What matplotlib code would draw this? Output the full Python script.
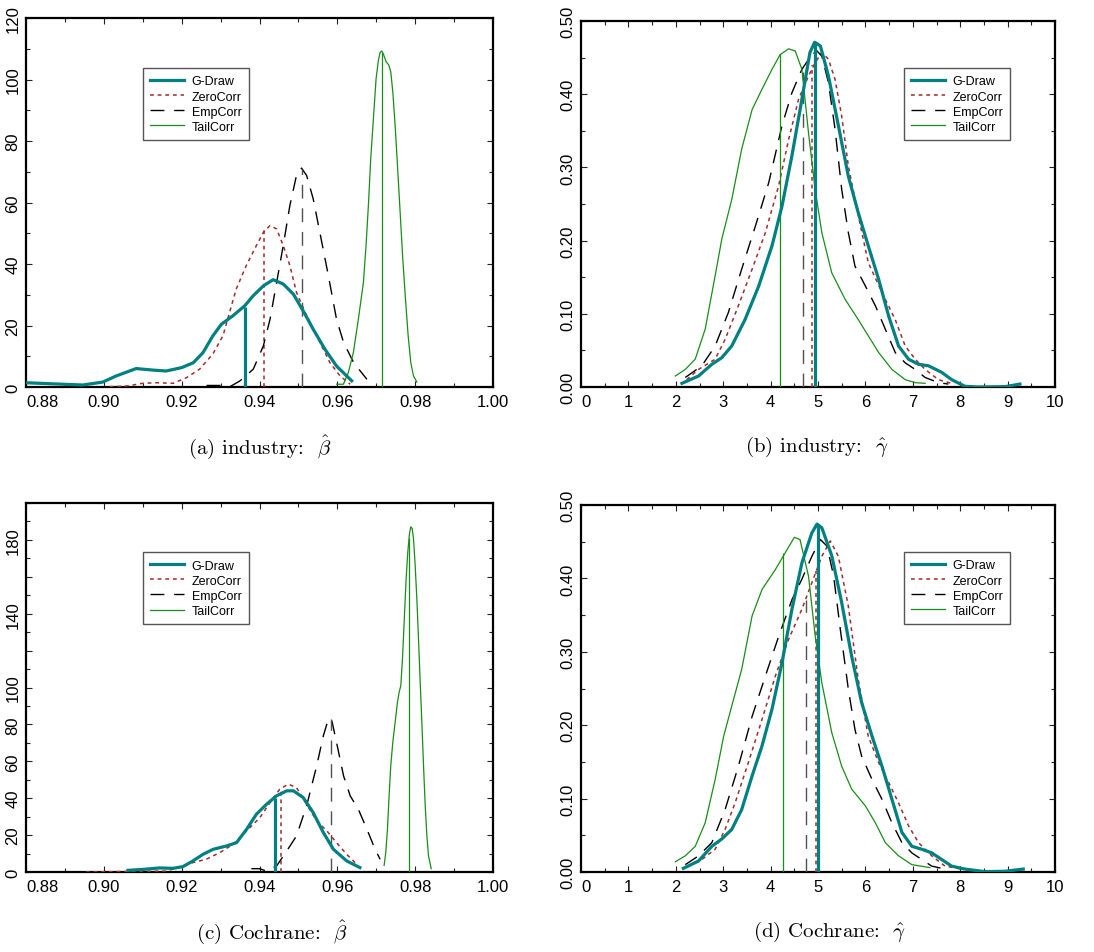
import matplotlib
matplotlib.use("Agg")
import matplotlib.pyplot as plt
from matplotlib.ticker import MultipleLocator, FixedLocator, FixedFormatter

plt.rcParams['mathtext.fontset'] = 'cm'
plt.rcParams['font.family'] = ['Liberation Sans', 'DejaVu Sans']

series_names = ["G-Draw", "ZeroCorr", "EmpCorr", "TailCorr"]

# ---------------- Panel (a): industry beta ----------------
a_gdraw_x = [0.8797, 0.8894, 0.8946, 0.8997, 0.9032, 0.9083, 0.9126, 0.9160, 0.9200, 0.9230, 0.9255,
             0.9280, 0.9302, 0.9332, 0.9362, 0.9384, 0.9410, 0.9435, 0.9461, 0.9487, 0.9512, 0.9538,
             0.9568, 0.9598, 0.9624, 0.9637]
a_gdraw_y = [1.4, 0.9, 0.65, 1.6, 3.6, 6.0, 5.5, 5.2, 6.3, 7.9, 11.2, 16.6, 20.4, 23.2, 26.4, 29.7,
             32.9, 34.9, 33.5, 30.2, 24.8, 18.8, 12.3, 6.8, 3.6, 2.0]
a_zero_x = [0.9015, 0.9058, 0.9100, 0.9135, 0.9178, 0.9212, 0.9246, 0.9280, 0.9306, 0.9323, 0.9340,
            0.9366, 0.9392, 0.9410, 0.9427, 0.9444, 0.9461, 0.9478, 0.9495, 0.9521, 0.9547, 0.9581,
            0.9607, 0.9633]
a_zero_y = [0.1, 0.3, 1.2, 1.4, 1.2, 3.0, 5.8, 10.7, 16.6, 24.2, 31.8, 39.5, 46.0, 50.3, 52.5, 51.4,
            46.0, 39.5, 30.8, 23.2, 16.6, 7.9, 3.6, 0.9]
a_emp_x = [0.9264, 0.9300, 0.9324, 0.9350, 0.9384, 0.9410, 0.9427, 0.9444, 0.9461, 0.9478, 0.9495,
           0.9508, 0.9521, 0.9538, 0.9555, 0.9577, 0.9598, 0.9616, 0.9642, 0.9676]
a_emp_y = [0.5, 0.5, 0.1, 2.0, 5.8, 13.4, 22.0, 34.0, 46.0, 59.0, 68.8, 71.2, 68.8, 61.2, 50.3, 36.2,
           22.0, 14.5, 7.9, 2.5]
a_tail_x = [0.95983, 0.96155, 0.96283, 0.96412, 0.96541, 0.96670, 0.96738, 0.96798, 0.96858, 0.96927,
            0.96996, 0.97056, 0.97099, 0.97142, 0.97185, 0.97253, 0.97322, 0.97373, 0.97425, 0.97485,
            0.97545, 0.97614, 0.97682, 0.97751, 0.97820, 0.97888, 0.97957, 0.98043]
a_tail_y = [0.9, 0.9, 4.7, 11.2, 22.1, 34.0, 46.0, 59.0, 74.2, 87.3, 100.3, 106.3, 108.8, 109.3, 108.2,
            105.8, 104.7, 102.5, 96.0, 85.1, 72.1, 56.8, 41.6, 28.6, 16.6, 7.9, 3.6, 1.6]
a_vline_x = [0.9362, 0.9411, 0.9509, 0.9714]
a_vline_h = [26.0, 52.0, 71.0, 109.0]

# ---------------- Panel (b): industry gamma ----------------
b_gdraw_x = [2.13, 2.48, 2.76, 2.97, 3.18, 3.46, 3.75, 4.03, 4.24, 4.45, 4.66, 4.83, 4.93, 5.05, 5.22,
             5.43, 5.64, 5.85, 6.06, 6.28, 6.49, 6.70, 6.91, 7.12, 7.33, 7.61, 7.82, 8.10, 8.38, 8.95, 9.26]
b_gdraw_y = [0.005, 0.015, 0.031, 0.040, 0.056, 0.092, 0.138, 0.193, 0.247, 0.316, 0.393, 0.457, 0.471,
             0.466, 0.425, 0.357, 0.288, 0.238, 0.193, 0.147, 0.097, 0.056, 0.038, 0.031, 0.029, 0.020,
             0.010, 0.001, 0.0, 0.0005, 0.004]
b_zero_x = [2.23, 2.48, 2.83, 3.04, 3.32, 3.61, 3.89, 4.17, 4.38, 4.59, 4.80, 4.94, 5.08, 5.22, 5.36,
            5.50, 5.64, 5.85, 6.06, 6.35, 6.63, 6.84, 7.05, 7.26, 7.54, 7.82]
b_zero_y = [0.010, 0.024, 0.038, 0.065, 0.111, 0.161, 0.211, 0.275, 0.338, 0.393, 0.425, 0.443, 0.457,
            0.448, 0.420, 0.370, 0.302, 0.234, 0.170, 0.129, 0.092, 0.056, 0.038, 0.024, 0.010, 0.005]
b_emp_x = [2.20, 2.55, 2.83, 3.11, 3.39, 3.68, 3.96, 4.24, 4.45, 4.66, 4.87, 4.98, 5.08, 5.22, 5.36,
           5.50, 5.64, 5.78, 6.00, 6.21, 6.42, 6.63, 6.84, 7.05, 7.26, 7.54, 7.75]
b_emp_y = [0.013, 0.029, 0.056, 0.102, 0.161, 0.220, 0.279, 0.357, 0.402, 0.434, 0.454, 0.459, 0.452,
           0.416, 0.352, 0.270, 0.211, 0.165, 0.138, 0.111, 0.079, 0.047, 0.033, 0.024, 0.013, 0.006,
           0.004]
b_tail_x = [1.99, 2.20, 2.41, 2.62, 2.83, 2.97, 3.18, 3.39, 3.61, 3.82, 4.03, 4.20, 4.38, 4.52, 4.66,
            4.80, 4.94, 5.08, 5.29, 5.57, 5.85, 6.06, 6.28, 6.56, 6.84, 7.05, 7.26]
b_tail_y = [0.015, 0.024, 0.038, 0.079, 0.152, 0.202, 0.256, 0.325, 0.379, 0.407, 0.434, 0.454, 0.462,
            0.459, 0.434, 0.347, 0.270, 0.211, 0.156, 0.120, 0.092, 0.070, 0.047, 0.024, 0.010, 0.006,
            0.005]
b_vline_x = [4.94, 4.87, 4.69, 4.19]
b_vline_h = [0.470, 0.440, 0.430, 0.455]

# ---------------- Panel (c): Cochrane beta ----------------
c_gdraw_x = [0.9062, 0.9100, 0.9143, 0.9178, 0.9203, 0.9229, 0.9255, 0.9281, 0.9315, 0.9341, 0.9367,
             0.9392, 0.9418, 0.9444, 0.9470, 0.9487, 0.9512, 0.9538, 0.9564, 0.9590, 0.9624, 0.9658]
c_gdraw_y = [0.9, 1.4, 2.2, 2.0, 2.9, 6.0, 9.6, 12.3, 14.1, 15.9, 23.2, 31.3, 36.7, 41.3, 44.0, 44.0,
             40.4, 32.2, 21.4, 12.3, 6.0, 2.4]
c_zero_x = [0.8954, 0.9023, 0.9092, 0.9160, 0.9195, 0.9229, 0.9263, 0.9298, 0.9332, 0.9367, 0.9401,
            0.9427, 0.9452, 0.9474, 0.9495, 0.9521, 0.9547, 0.9573, 0.9598, 0.9624, 0.9650]
c_zero_y = [0.0, 0.2, 0.4, 0.5, 2.7, 5.1, 6.9, 10.5, 15.0, 22.3, 29.5, 37.6, 44.9, 47.6, 45.8, 36.7,
            27.7, 22.3, 15.9, 9.6, 4.2]
c_emp_x = [0.9379, 0.9400, 0.9418, 0.9444, 0.9470, 0.9495, 0.9521, 0.9547, 0.9564, 0.9577, 0.9585,
           0.9598, 0.9616, 0.9633, 0.9654, 0.9676, 0.9697, 0.9710]
c_emp_y = [1.8, 1.8, 0.5, 3.3, 11.4, 19.5, 35.8, 57.6, 73.8, 82.9, 82.9, 70.2, 52.1, 41.3, 34.0, 23.2,
           12.3, 6.9]
c_tail_x = [0.97202, 0.97245, 0.97288, 0.97330, 0.97373, 0.97425, 0.97485, 0.97545, 0.97588, 0.97631,
            0.97674, 0.97717, 0.97768, 0.97811, 0.97854, 0.97888, 0.97923, 0.97957, 0.98000, 0.98043,
            0.98086, 0.98129, 0.98172, 0.98215, 0.98258, 0.98300, 0.98343, 0.98412]
c_tail_y = [3.6, 10.5, 23.2, 41.3, 57.6, 70.2, 81.1, 92.0, 97.4, 101.0, 115.5, 135.4, 159.0, 173.5,
            183.5, 187.1, 186.2, 180.8, 166.3, 148.1, 126.4, 102.9, 81.1, 57.6, 36.0, 19.9, 8.7, 1.8]
c_vline_x = [0.9440, 0.9456, 0.9584, 0.9784]
c_vline_h = [40.0, 44.0, 83.0, 181.0]

# ---------------- Panel (d): Cochrane gamma ----------------
d_gdraw_x = [2.16, 2.48, 2.76, 2.97, 3.18, 3.39, 3.61, 3.82, 4.03, 4.24, 4.45, 4.66, 4.87, 4.98, 5.08,
             5.29, 5.50, 5.71, 5.92, 6.14, 6.35, 6.56, 6.77, 6.98, 7.19, 7.40, 7.61, 7.82, 8.10, 8.52,
             8.95, 9.33]
d_gdraw_y = [0.005, 0.015, 0.035, 0.045, 0.058, 0.085, 0.131, 0.172, 0.222, 0.285, 0.358, 0.421, 0.462,
             0.474, 0.469, 0.431, 0.367, 0.294, 0.231, 0.185, 0.144, 0.099, 0.054, 0.035, 0.031, 0.026,
             0.017, 0.008, 0.004, 0.0005, 0.001, 0.004]
d_zero_x = [2.27, 2.55, 2.83, 3.04, 3.25, 3.53, 3.82, 4.10, 4.38, 4.66, 4.87, 5.08, 5.26, 5.43, 5.64,
            5.85, 6.06, 6.28, 6.49, 6.70, 6.91, 7.12, 7.40, 7.68, 8.03]
d_zero_y = [0.008, 0.017, 0.031, 0.058, 0.094, 0.149, 0.208, 0.267, 0.317, 0.358, 0.394, 0.430, 0.451,
            0.430, 0.362, 0.262, 0.185, 0.149, 0.122, 0.094, 0.063, 0.040, 0.022, 0.008, 0.004]
d_emp_x = [2.20, 2.48, 2.76, 3.04, 3.32, 3.61, 3.89, 4.17, 4.45, 4.66, 4.87, 5.05, 5.19, 5.33, 5.47,
           5.64, 5.78, 5.92, 6.14, 6.35, 6.56, 6.77, 6.98, 7.19, 7.40, 7.68]
d_emp_y = [0.010, 0.022, 0.040, 0.085, 0.144, 0.212, 0.267, 0.321, 0.371, 0.399, 0.430, 0.453, 0.444,
           0.403, 0.331, 0.249, 0.194, 0.158, 0.126, 0.099, 0.067, 0.040, 0.026, 0.017, 0.008, 0.004]
d_tail_x = [1.99, 2.20, 2.41, 2.62, 2.83, 3.01, 3.18, 3.39, 3.61, 3.82, 4.10, 4.31, 4.50, 4.62, 4.80,
            4.94, 5.08, 5.29, 5.50, 5.71, 6.00, 6.21, 6.42, 6.70, 6.98, 7.36]
d_tail_y = [0.014, 0.022, 0.035, 0.067, 0.126, 0.185, 0.226, 0.276, 0.349, 0.385, 0.412, 0.435, 0.456,
            0.453, 0.403, 0.322, 0.258, 0.190, 0.144, 0.113, 0.090, 0.067, 0.040, 0.022, 0.010, 0.006]
d_vline_x = [5.01, 4.96, 4.75, 4.27]
d_vline_h = [0.474, 0.410, 0.370, 0.435]

# ---------------- tick labels & captions ----------------
beta_xticks = [0.88, 0.90, 0.92, 0.94, 0.96, 0.98, 1.00]
beta_xlabels = ["0.88", "0.90", "0.92", "0.94", "0.96", "0.98", "1.00"]
gamma_xticks = [0, 1, 2, 3, 4, 5, 6, 7, 8, 9, 10]
gamma_xlabels = ["0", "1", "2", "3", "4", "5", "6", "7", "8", "9", "10"]
a_yticks = [0, 20, 40, 60, 80, 100, 120]
a_ylabels = ["0", "20", "40", "60", "80", "100", "120"]
c_yticks = [0, 20, 40, 60, 80, 100, 120, 140, 160, 180, 200]
c_ylabels = ["0", "20", "40", "60", "80", "100", "", "140", "", "180", ""]
g_yticks = [0.0, 0.1, 0.2, 0.3, 0.4, 0.5]
g_ylabels = ["0.00", "0.10", "0.20", "0.30", "0.40", "0.50"]
captions = [r"(a) industry:  $\hat{\beta}$",
            r"(b) industry:  $\hat{\gamma}$",
            r"(c) Cochrane:  $\hat{\beta}$",
            r"(d) Cochrane:  $\hat{\gamma}$"]

# ---------------- styles ----------------
colors = ["#008080", "#a52a2a", "#000000", "#1a8c1a"]
vcolors = ["#008080", "#a52a2a", "#505050", "#1a8c1a"]
widths = [2.3, 1.1, 1.0, 0.9]
styles = ["-", (0, (2.5, 2.5)), (0, (10, 7)), "-"]

W, H = 1094, 953
fig = plt.figure(figsize=(W / 100, H / 100), dpi=100)


def rect(l, r, t, b):
    return [l / W, 1 - b / H, (r - l) / W, (b - t) / H]


panels = [
    dict(rect=rect(26, 493, 19, 388), xlim=(0.88, 1.00), ylim=(0, 120),
         data=[(a_gdraw_x, a_gdraw_y), (a_zero_x, a_zero_y), (a_emp_x, a_emp_y), (a_tail_x, a_tail_y)],
         vx=a_vline_x, vh=a_vline_h, xt=beta_xticks, xl=beta_xlabels, yt=a_yticks, yl=a_ylabels,
         xminor=0.01, yminor=10, leg=(0.2505, 0.8645), cap=(260, 447)),
    dict(rect=rect(581, 1055, 22, 388), xlim=(0, 10), ylim=(0, 0.5),
         data=[(b_gdraw_x, b_gdraw_y), (b_zero_x, b_zero_y), (b_emp_x, b_emp_y), (b_tail_x, b_tail_y)],
         vx=b_vline_x, vh=b_vline_h, xt=gamma_xticks, xl=gamma_xlabels, yt=g_yticks, yl=g_ylabels,
         xminor=0.5, yminor=0.05, leg=(0.681, 0.8716), cap=(817, 447)),
    dict(rect=rect(26, 493, 504, 873), xlim=(0.88, 1.00), ylim=(0, 200),
         data=[(c_gdraw_x, c_gdraw_y), (c_zero_x, c_zero_y), (c_emp_x, c_emp_y), (c_tail_x, c_tail_y)],
         vx=c_vline_x, vh=c_vline_h, xt=beta_xticks, xl=beta_xlabels, yt=c_yticks, yl=c_ylabels,
         xminor=0.01, yminor=10, leg=(0.2505, 0.867), cap=(272, 932)),
    dict(rect=rect(581, 1055, 506, 873), xlim=(0, 10), ylim=(0, 0.5),
         data=[(d_gdraw_x, d_gdraw_y), (d_zero_x, d_zero_y), (d_emp_x, d_emp_y), (d_tail_x, d_tail_y)],
         vx=d_vline_x, vh=d_vline_h, xt=gamma_xticks, xl=gamma_xlabels, yt=g_yticks, yl=g_ylabels,
         xminor=0.5, yminor=0.05, leg=(0.681, 0.872), cap=(830, 932)),
]

for i, p in enumerate(panels):
    ax = fig.add_axes(p["rect"])
    handles = []
    for k, (xs, ys) in enumerate(p["data"]):
        h, = ax.plot(xs, ys, color=colors[k], lw=widths[k], linestyle=styles[k],
                     label=series_names[k], zorder=3 + (k == 0),
                     solid_joinstyle="round", dash_joinstyle="round")
        handles.append(h)
        ax.vlines(p["vx"][k], 0, p["vh"][k], colors=vcolors[k], lw=widths[k],
                  linestyles=[styles[k]], zorder=3 + (k == 0))
    ax.set_xlim(*p["xlim"])
    ax.set_ylim(*p["ylim"])
    ax.xaxis.set_major_locator(FixedLocator(p["xt"]))
    ax.xaxis.set_major_formatter(FixedFormatter(p["xl"]))
    ax.yaxis.set_major_locator(FixedLocator(p["yt"]))
    ax.yaxis.set_major_formatter(FixedFormatter(p["yl"]))
    ax.xaxis.set_minor_locator(MultipleLocator(p["xminor"]))
    ax.yaxis.set_minor_locator(MultipleLocator(p["yminor"]))
    ax.tick_params(which="both", direction="in", top=True, right=True, width=0.8, color="#222222")
    ax.tick_params(which="major", length=4.5)
    ax.tick_params(which="minor", length=3)
    ax.tick_params(axis="x", labelsize=12, pad=5)
    ax.tick_params(axis="y", labelsize=12, pad=4, labelrotation=90)
    for lab in ax.get_yticklabels():
        lab.set_va("center")
    xlabs = ax.get_xticklabels()
    xlabs[0].set_ha("left")
    for s in ax.spines.values():
        s.set_linewidth(1.6)
        s.set_color("black")
    leg = ax.legend(handles=handles, loc="upper left", bbox_to_anchor=p["leg"],
                    borderaxespad=0, fontsize=9, frameon=True, fancybox=False,
                    edgecolor="#555555", framealpha=1, handlelength=2.7,
                    handletextpad=0.6, labelspacing=0.25, borderpad=0.6)
    leg.get_frame().set_linewidth(1.0)
    fig.text(p["cap"][0] / W, 1 - p["cap"][1] / H, captions[i], ha="center", va="center",
             fontsize=15, family="cmr10")

fig.savefig("out.png", dpi=100)
